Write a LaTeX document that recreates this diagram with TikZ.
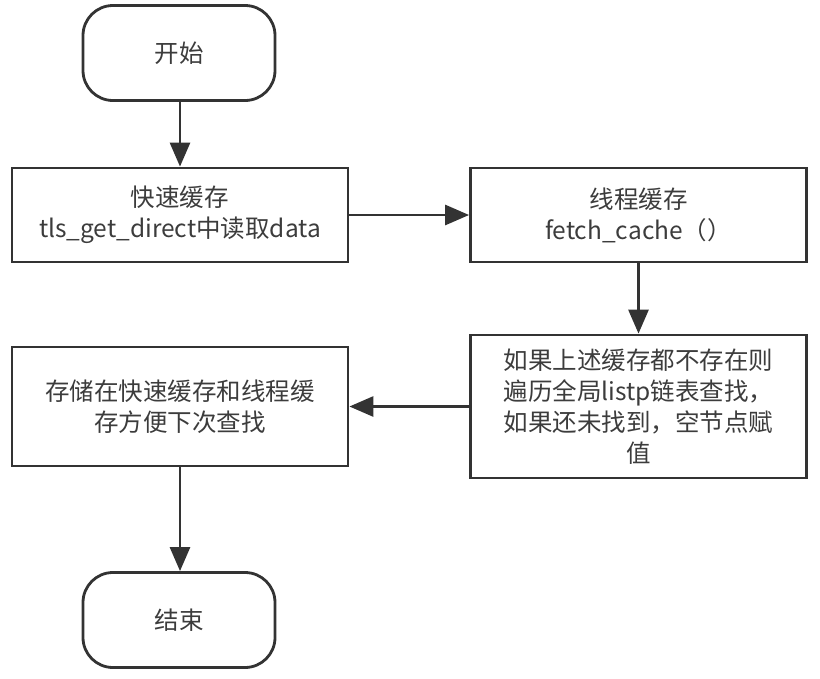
\documentclass[tikz,border=0pt]{standalone}
\usepackage{fontspec}
\setmainfont{Noto Sans CJK SC}
\usepackage{tikz}
\usetikzlibrary{arrows.meta}
\definecolor{Ink}{HTML}{333333}
\definecolor{Txt}{HTML}{3C3C3C}

\begin{document}
\begin{tikzpicture}[x=1pt, y=-1pt,
    term/.style={draw=Ink, line width=2.8pt, rounded corners=30pt,
                 minimum width=192pt, minimum height=95pt, font=\fontsize{24.5}{31}\selectfont,
                 text=Txt, inner sep=0pt},
    proc/.style={draw=Ink, line width=2.8pt, minimum width=336pt,
                 font=\fontsize{24.5}{31}\selectfont, text=Txt, align=center, inner sep=0pt},
    ar/.style={-{Triangle[length=24pt, width=20pt]}, draw=Ink, fill=Ink, line width=2.8pt}]
    \useasboundingbox (0,0) rectangle (820,678);
    \node[term] (start) at (179,53)    {开始};
    \node[proc, minimum height=94pt]  (fast)  at (180,215)   {快速缓存\\tls\_get\_direct中读取data};
    \node[proc, minimum height=94pt]  (tcache) at (638.5,215) {线程缓存\\fetch\_cache（）};
    \node[proc, minimum height=143pt] (glob)  at (638.5,406.5)
      {如果上述缓存都不存在则\\遍历全局listp链表查找，\\如果还未找到，空节点赋\\值};
    \node[proc, minimum height=119pt] (store) at (180,406.5) {存储在快速缓存和线程缓\\存方便下次查找};
    \node[term] (stop)  at (179,620)   {结束};
    \draw[ar] (start.south -| fast.north) -- (fast.north);
    \draw[ar] (fast) -- (tcache);
    \draw[ar] (tcache) -- (glob);
    \draw[ar] (glob) -- (store);
    \draw[ar] (store.south) -- (store.south |- stop.north);
  \end{tikzpicture}
\end{document}
